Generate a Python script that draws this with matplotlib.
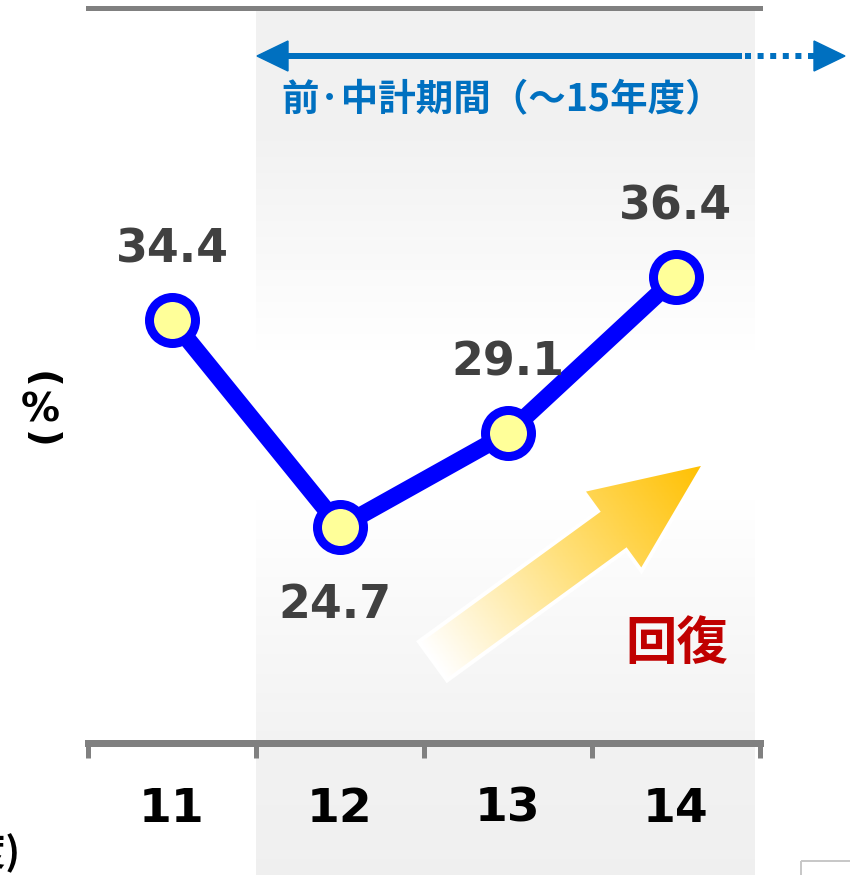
import matplotlib.pyplot as plt
import matplotlib.patches as mpatches
from matplotlib.colors import LinearSegmentedColormap
import numpy as np

# data
years = ['11', '12', '13', '14']
values = [34.4, 24.7, 29.1, 36.4]
label_side = ['above', 'below', 'above', 'above']

period_text = '前·中計期間（～15年度）'
trend_text = '回復'
unit_text = '%'
year_unit_text = '(年度)'

W, H = 850, 875
DPI = 100
px = 72 / DPI  # points per pixel
cjk = ['Noto Sans CJK JP', 'DejaVu Sans']

fig = plt.figure(figsize=(W / DPI, H / DPI), dpi=DPI)

# background layer, pixel coordinates (y down)
bg = fig.add_axes([0, 0, 1, 1], zorder=0)
bg.axis('off')

# shaded band for the plan period (vertical grey-white-grey gradient)
yy = np.arange(10, H)
g = np.interp(yy, [10, 140, 350, 500, 750, 875], [0.949, 0.949, 1.0, 1.0, 0.949, 0.94])
shade = np.repeat(g[:, None, None], 3, axis=2)
bg.imshow(shade, extent=(256, 755, H, 10), aspect='auto', interpolation='bilinear', zorder=0)

# rising gold arrow
tail = np.array([433.0, 661.0])
tip = np.array([705.0, 463.0])
L = np.linalg.norm(tip - tail)
u = (tip - tail) / L
n = np.array([-u[1], u[0]])
shaft_hw, head_hw, head_len = 24, 50, 115
base = tip - u * head_len
pts = [tail + n * shaft_hw, base + n * shaft_hw, base + n * head_hw, tip,
       base - n * head_hw, base - n * shaft_hw, tail - n * shaft_hw]
arrow = mpatches.Polygon(pts, closed=True, facecolor='none', edgecolor='white', lw=4 * px, zorder=2)
bg.add_patch(arrow)
X, Y = np.meshgrid(np.linspace(400, 720, 200), np.linspace(440, 700, 200))
t = np.clip(((X - tail[0]) * u[0] + (Y - tail[1]) * u[1]) / L, 0, 1)
gold = LinearSegmentedColormap.from_list('gold', ['#FFFFFF', '#FFE07A', '#FFC000'])
im = bg.imshow(t, cmap=gold, extent=(400, 720, 700, 440), aspect='auto', zorder=1)
im.set_clip_path(arrow)

# blue period arrow
blue = '#0070C0'
bg.plot([280, 742], [56, 56], color=blue, lw=6 * px, solid_capstyle='butt', zorder=3)
bg.plot([745, 815], [56, 56], color=blue, lw=6 * px, dashes=(1, 1.1), dash_capstyle='butt', zorder=3)
bg.add_patch(mpatches.Polygon([(257, 56), (288, 41), (288, 71)], color=blue, zorder=3))
bg.add_patch(mpatches.Polygon([(845, 56), (814, 41), (814, 71)], color=blue, zorder=3))
bg.text(502, 100, period_text, ha='center', va='center', fontsize=27, fontweight='bold',
        color=blue, family=cjk, zorder=3)

bg.text(677, 643, trend_text, ha='center', va='center', fontsize=37, fontweight='bold',
        color='#C00000', family=cjk, zorder=3)

# unit label, vertical
bg.text(40, 380, '(', rotation=-90, ha='center', va='center', fontsize=28, fontweight='bold')
bg.text(40, 411, unit_text, ha='center', va='center', fontsize=28, fontweight='bold')
bg.text(40, 440, ')', rotation=-90, ha='center', va='center', fontsize=28, fontweight='bold')

bg.text(21, 853, year_unit_text, ha='right', va='center', fontsize=28, fontweight='bold', family=cjk)

bg.add_patch(mpatches.Rectangle((801, 861), 100, 50, fill=False, edgecolor='#c8c8c8', lw=2 * px))

bg.set_xlim(0, W)
bg.set_ylim(H, 0)

# main chart
ax = fig.add_axes([88 / W, (H - 743) / H, (760 - 88) / W, (743 - 7.5) / H], zorder=1)
ax.patch.set_alpha(0)
x = np.arange(len(years))
ax.plot(x, values, color='#0000FF', lw=17 * px, marker='o', ms=46 * px,
        mfc='#FFFF99', mec='#0000FF', mew=9 * px)
ax.set_xlim(-0.5, 3.5)
ax.set_ylim(14.58, 49.04)

for side in ['left', 'right']:
    ax.spines[side].set_visible(False)
ax.spines['bottom'].set_color('#808080')
ax.spines['bottom'].set_linewidth(7 * px)
ax.spines['top'].set_color('#808080')
ax.spines['top'].set_linewidth(5 * px)
ax.set_yticks([])
ax.set_xticks(np.arange(-0.5, 4, 1), [''] * 5)
ax.tick_params(axis='x', length=15 * px, width=5 * px, color='#808080', direction='out')

for i, yr in enumerate(years):
    ax.text(i, -0.09, yr, transform=ax.get_xaxis_transform(), ha='center', va='center',
            fontsize=34, fontweight='bold', color='black')

for i, (v, side) in enumerate(zip(values, label_side)):
    dy = 70 if side == 'above' else -78
    dx = 0 if side == 'above' else -5
    ax.annotate(f'{v:.1f}', (i, v), xytext=(dx * px, dy * px), textcoords='offset points',
                ha='center', va='center', fontsize=33, fontweight='bold', color='#404040')

fig.savefig('out.png', dpi=DPI)
